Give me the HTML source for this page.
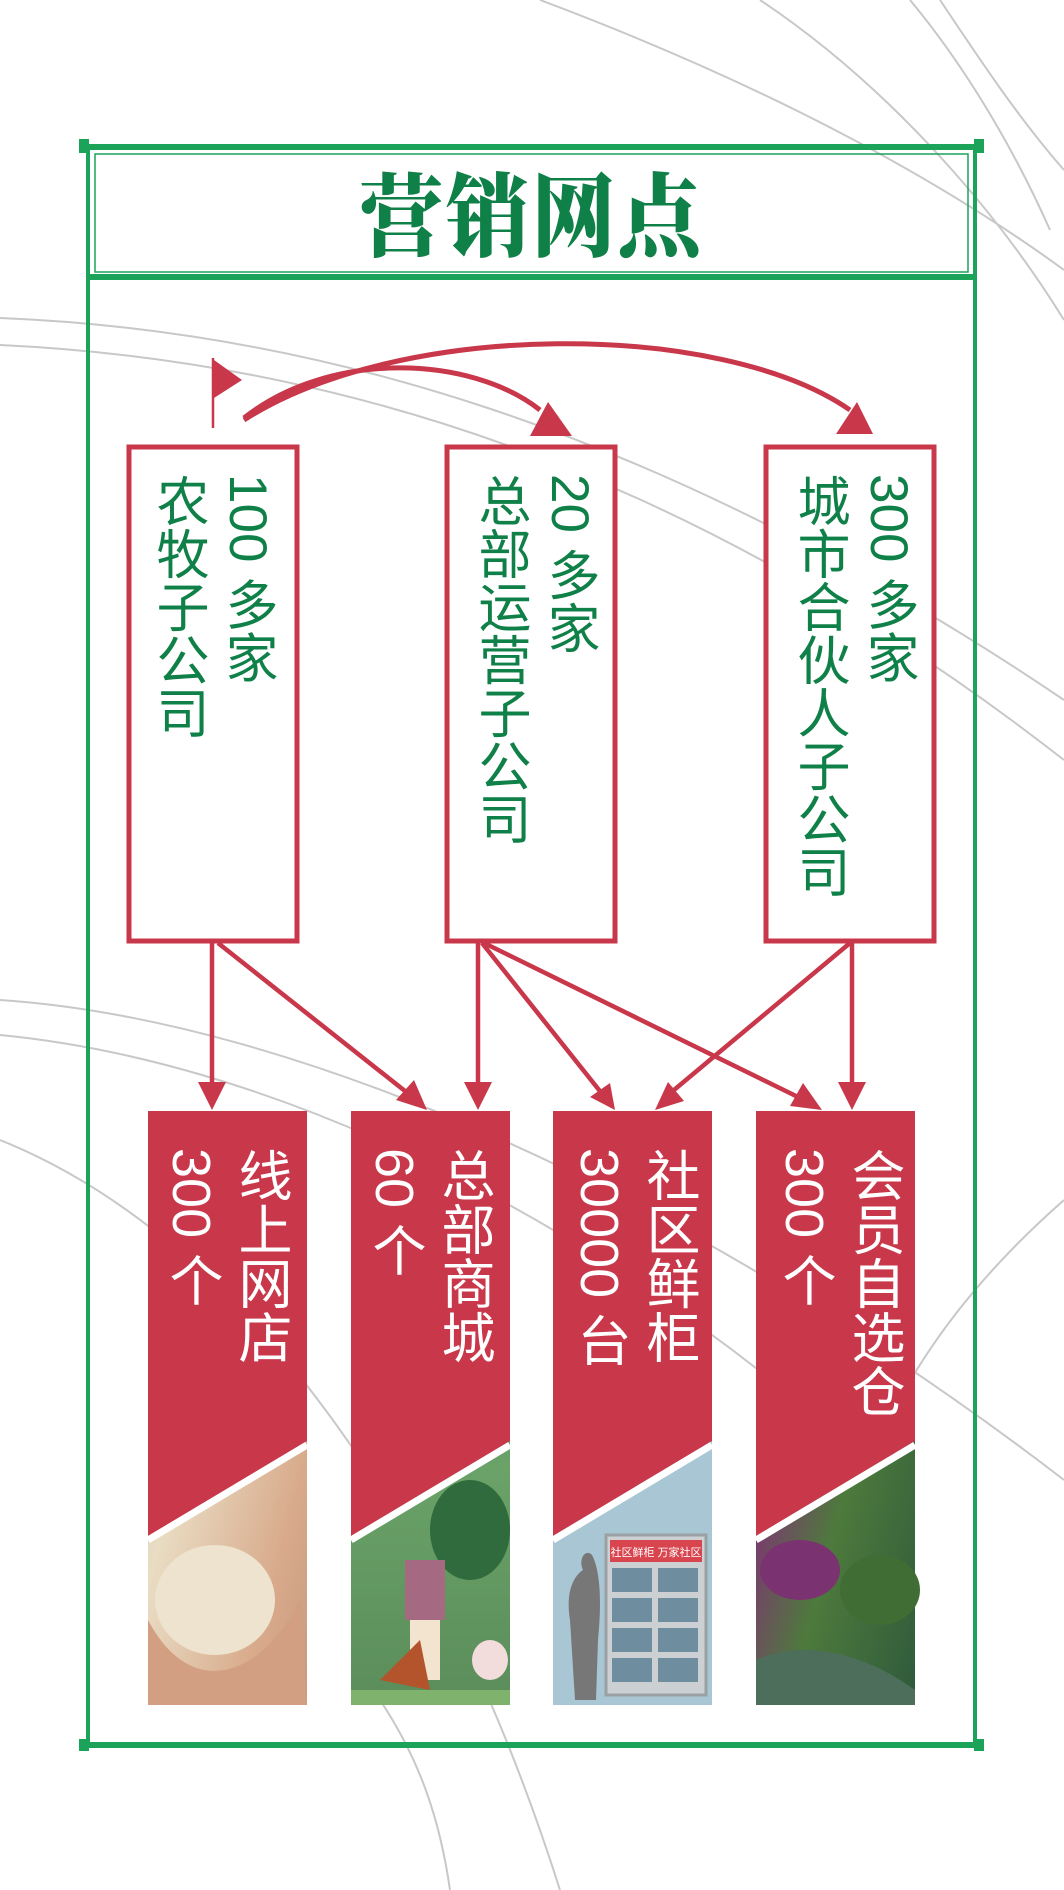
<!DOCTYPE html>
<html><head><meta charset="utf-8"><style>
html,body{margin:0;padding:0;}
body{width:1064px;height:1890px;position:relative;background:#fff;overflow:hidden;font-family:"Liberation Sans","Noto Sans CJK SC",sans-serif;}
svg{position:absolute;left:0;top:0;}
.v{position:absolute;writing-mode:vertical-rl;font-size:53px;line-height:69px;white-space:nowrap;}
.g{color:#0f8048;}
.w{color:#fff;font-size:54px;}
.title{position:absolute;left:88px;top:150px;width:887px;text-align:center;font-family:"Noto Serif CJK SC",serif;font-weight:900;font-size:84px;color:#0f8048;letter-spacing:2px;transform:scaleY(1.08);}
</style></head><body>
<svg width="1064" height="1890" viewBox="0 0 1064 1890">
<defs>
<linearGradient id="rice" x1="0" y1="0" x2="1" y2="1"><stop offset="0" stop-color="#c9c3bb"/><stop offset=".4" stop-color="#e9dcc3"/><stop offset=".8" stop-color="#d8a98a"/><stop offset="1" stop-color="#c89a80"/></linearGradient>
<linearGradient id="park" x1="0" y1="0" x2="0" y2="1"><stop offset="0" stop-color="#3a9ed0"/><stop offset=".3" stop-color="#4f8a5c"/><stop offset=".6" stop-color="#6aa268"/><stop offset="1" stop-color="#5b8d5a"/></linearGradient>
<linearGradient id="veg" x1="0" y1="0" x2="1" y2="1"><stop offset="0" stop-color="#b9c9a0"/><stop offset=".35" stop-color="#7a3a6e"/><stop offset=".6" stop-color="#4d7a3c"/><stop offset="1" stop-color="#2f5a3c"/></linearGradient>
</defs>
<g fill="none" stroke="#c8c8c8" stroke-width="2">
<path d="M0,318 C300,330 650,420 1064,700"/>
<path d="M0,345 C320,360 680,460 1064,760"/>
<path d="M540,0 C700,60 900,150 1064,270"/>
<path d="M760,0 C880,80 990,200 1064,320"/>
<path d="M910,0 C960,60 1010,140 1050,230"/>
<path d="M940,0 C980,60 1020,120 1064,170"/>
<path d="M0,1000 C300,1020 700,1200 1064,1480"/>
<path d="M0,1035 C260,1060 560,1200 820,1420"/>
<path d="M0,1140 C200,1220 420,1450 560,1890"/>
<path d="M1064,1200 C950,1300 870,1420 860,1520"/>
<path d="M380,1700 C420,1760 440,1820 450,1890"/>
</g>
<g stroke="#1ba35a" fill="none">
<line x1="84" y1="147" x2="980" y2="147" stroke-width="6"/>
<line x1="88" y1="147" x2="88" y2="1745" stroke-width="4"/>
<line x1="975" y1="147" x2="975" y2="1745" stroke-width="4"/>
<line x1="84" y1="1745" x2="980" y2="1745" stroke-width="6"/>
<rect x="95" y="154" width="873" height="118" stroke-width="1.5"/>
<line x1="88" y1="277" x2="975" y2="277" stroke-width="6"/>
</g>
<g fill="#1ba35a"><rect x="79" y="139" width="10" height="14"/><rect x="974" y="139" width="10" height="14"/><rect x="79" y="1739" width="10" height="12"/><rect x="974" y="1739" width="10" height="12"/></g>
<g fill="#fff" stroke="#c8374a" stroke-width="5">
<rect x="129" y="447" width="168" height="494"/>
<rect x="447" y="447" width="168" height="494"/>
<rect x="766" y="447" width="168" height="494"/>
</g>
<line x1="213" y1="358" x2="213" y2="428" stroke="#c8374a" stroke-width="2.5"/>
<path d="M214,360 L242,380 L214,398 z" fill="#c8374a"/>
<g fill="none" stroke="#c8374a" stroke-width="5">
<path d="M244,418 C330,350 470,355 540,410"/>
<path d="M244,420 C400,320 720,320 850,410"/>
</g>
<path d="M548,402 L572,436 L530,436 z" fill="#c8374a"/>
<path d="M857,402 L873,434 L836,434 z" fill="#c8374a"/>
<g stroke="#c8374a" stroke-width="4.5" fill="none">
<line x1="212" y1="943" x2="212" y2="1090"/>
<line x1="218" y1="943" x2="410" y2="1095"/>
<line x1="478" y1="943" x2="478" y2="1090"/>
<line x1="482" y1="943" x2="603" y2="1095"/>
<line x1="484" y1="943" x2="800" y2="1098"/>
<line x1="850" y1="943" x2="668" y2="1095"/>
<line x1="852" y1="943" x2="852" y2="1090"/>
</g>
<g fill="#c8374a">
<path d="M198,1082 L226,1082 L212,1110 z"/>
<path d="M464,1082 L492,1082 L478,1110 z"/>
<path d="M838,1082 L866,1082 L852,1110 z"/>
<path d="M427,1110 L396,1100 L414,1080 z"/>
<path d="M615,1110 L590,1097 L610,1083 z"/>
<path d="M822,1110 L790,1106 L803,1083 z"/>
<path d="M655,1110 L668,1082 L684,1101 z"/>
</g>
<g>
<rect x="148" y="1111" width="159" height="594" fill="url(#rice)"/>
<ellipse cx="215" cy="1600" rx="60" ry="55" fill="#ede3cf"/>
<path d="M148,1620 C190,1700 260,1680 300,1600 L307,1705 L148,1705 z" fill="#d39f82"/>
<rect x="351" y="1111" width="159" height="594" fill="url(#park)"/>
<ellipse cx="470" cy="1530" rx="40" ry="50" fill="#2f6b3c"/>
<rect x="405" y="1560" width="40" height="60" fill="#a56a82"/>
<rect x="410" y="1620" width="30" height="60" fill="#f3e4d0"/>
<path d="M380,1680 L420,1640 L430,1690 z" fill="#b4542c"/>
<ellipse cx="490" cy="1660" rx="18" ry="20" fill="#f2dcdc"/>
<rect x="351" y="1690" width="159" height="15" fill="#7fb26c"/>
<rect x="553" y="1111" width="159" height="594" fill="#a9c6d4"/>
<rect x="606" y="1535" width="100" height="160" fill="#ccd0d2" stroke="#9aa0a4" stroke-width="3"/>
<rect x="610" y="1540" width="92" height="22" fill="#d8454f"/>
<text x="656" y="1556" fill="#fff" font-size="11" text-anchor="middle" font-family="Liberation Sans,Noto Sans CJK SC,sans-serif">社区鲜柜 万家社区</text>
<g fill="#6e8ea0"><rect x="612" y="1568" width="40" height="24"/><rect x="658" y="1568" width="40" height="24"/><rect x="612" y="1598" width="40" height="24"/><rect x="658" y="1598" width="40" height="24"/><rect x="612" y="1628" width="40" height="24"/><rect x="658" y="1628" width="40" height="24"/><rect x="612" y="1658" width="40" height="24"/><rect x="658" y="1658" width="40" height="24"/></g>
<path d="M575,1700 L570,1620 C565,1590 575,1575 583,1570 C578,1560 585,1548 592,1555 C600,1570 602,1600 598,1640 L596,1700 z" fill="#777"/>
<rect x="756" y="1111" width="159" height="594" fill="url(#veg)"/>
<ellipse cx="880" cy="1590" rx="40" ry="35" fill="#3f6d34"/>
<ellipse cx="800" cy="1570" rx="40" ry="30" fill="#7b3270"/>
<path d="M756,1660 C800,1640 860,1650 915,1690 L915,1705 L756,1705 z" fill="#4d6e5a"/>
<path d="M148,1111 L307,1111 L307,1441 L148,1536 z" fill="#c8374a"/>
<path d="M351,1111 L510,1111 L510,1441 L351,1536 z" fill="#c8374a"/>
<path d="M553,1111 L712,1111 L712,1441 L553,1536 z" fill="#c8374a"/>
<path d="M756,1111 L915,1111 L915,1441 L756,1536 z" fill="#c8374a"/>
<g stroke="#fff" stroke-width="7">
<line x1="148" y1="1540" x2="307" y2="1445"/>
<line x1="351" y1="1540" x2="510" y2="1445"/>
<line x1="553" y1="1540" x2="712" y2="1445"/>
<line x1="756" y1="1540" x2="915" y2="1445"/>
</g>
</g>
</svg>
<div class="title">营销网点</div>
<div class="v g" style="left:144px;top:474px;">100 多家<br>农牧子公司</div>
<div class="v g" style="left:466px;top:474px;">20 多家<br>总部运营子公司</div>
<div class="v g" style="left:785px;top:474px;">300 多家<br>城市合伙人子公司</div>
<div class="v w" style="left:156px;top:1148px;">线上网店<br>300 个</div>
<div class="v w" style="left:359px;top:1148px;">总部商城<br>60 个</div>
<div class="v w" style="left:564px;top:1148px;">社区鲜柜<br>30000 台</div>
<div class="v w" style="left:769px;top:1148px;">会员自选仓<br>300 个</div>
</body></html>
